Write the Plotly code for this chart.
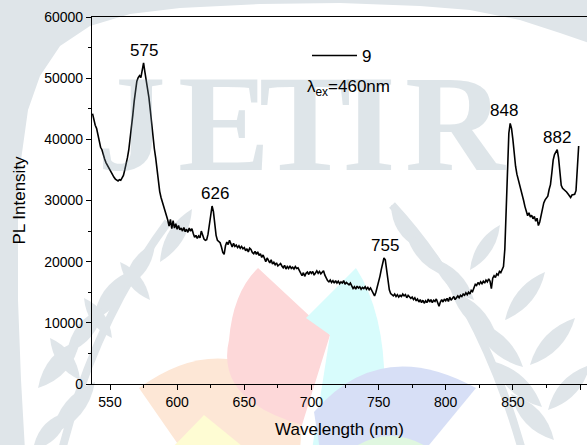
import plotly.graph_objects as go

# ---------------- data ----------------
wavelength = [
    537, 538, 539, 540, 541, 542, 543, 544, 545, 546,
    547, 548, 549, 550, 551, 552, 553, 554, 555, 556,
    557, 558, 559, 560, 561, 562, 563, 564, 565, 566,
    567, 568, 569, 570, 571, 572, 573, 574, 575, 576,
    577, 578, 579, 580, 581, 582, 583, 584, 585, 586,
    587, 588, 589, 590, 591, 592, 593, 594, 595, 596,
    597, 598, 599, 600, 601, 602, 603, 604, 605, 606,
    607, 608, 609, 610, 611, 612, 613, 614, 615, 616,
    617, 618, 619, 620, 621, 622, 623, 624, 625, 626,
    627, 628, 629, 630, 631, 632, 633, 634, 635, 636,
    637, 638, 639, 640, 641, 642, 643, 644, 645, 646,
    647, 648, 649, 650, 651, 652, 653, 654, 655, 656,
    657, 658, 659, 660, 661, 662, 663, 664, 665, 666,
    667, 668, 669, 670, 671, 672, 673, 674, 675, 676,
    677, 678, 679, 680, 681, 682, 683, 684, 685, 686,
    687, 688, 689, 690, 691, 692, 693, 694, 695, 696,
    697, 698, 699, 700, 701, 702, 703, 704, 705, 706,
    707, 708, 709, 710, 711, 712, 713, 714, 715, 716,
    717, 718, 719, 720, 721, 722, 723, 724, 725, 726,
    727, 728, 729, 730, 731, 732, 733, 734, 735, 736,
    737, 738, 739, 740, 741, 742, 743, 744, 745, 746,
    747, 748, 749, 750, 751, 752, 753, 754, 755, 756,
    757, 758, 759, 760, 761, 762, 763, 764, 765, 766,
    767, 768, 769, 770, 771, 772, 773, 774, 775, 776,
    777, 778, 779, 780, 781, 782, 783, 784, 785, 786,
    787, 788, 789, 790, 791, 792, 793, 794, 795, 796,
    797, 798, 799, 800, 801, 802, 803, 804, 805, 806,
    807, 808, 809, 810, 811, 812, 813, 814, 815, 816,
    817, 818, 819, 820, 821, 822, 823, 824, 825, 826,
    827, 828, 829, 830, 831, 832, 833, 834, 835, 836,
    837, 838, 839, 840, 841, 842, 843, 844, 845, 846,
    847, 848, 849, 850, 851, 852, 853, 854, 855, 856,
    857, 858, 859, 860, 861, 862, 863, 864, 865, 866,
    867, 868, 869, 870, 871, 872, 873, 874, 875, 876,
    877, 878, 879, 880, 881, 882, 883, 884, 885, 886,
    887, 888, 889, 890, 891, 892, 893, 894, 895, 896,
    897, 898, 899,
]

intensity = [
    44200, 43000, 42300, 41800, 40600, 39600, 38700, 38300, 37400, 36800,
    36200, 35800, 35200, 34800, 34400, 34000, 33800, 33500, 33300, 33200,
    33400, 33300, 33700, 34100, 35000, 35800, 37000, 38300, 40000, 42200,
    44000, 46200, 48200, 49500, 50100, 50400, 50100, 51300, 52500, 51000,
    49700, 48200, 46800, 44800, 42500, 40800, 38500, 37000, 34800, 32900,
    31500, 30500, 29800, 29000, 28000, 27300, 26800, 25800, 26900, 25400,
    26700, 25500, 26200, 25300, 25900, 25200, 25500, 25000, 25600, 24900,
    25300, 24800, 25500, 25000, 25400, 24600, 24000, 24300, 23800, 24200,
    23900, 25000, 24200, 23700, 23500, 23600, 24500, 26000, 28000, 29100,
    28200, 26300, 24300, 23500, 23300, 23100, 22400, 21500, 21200, 22600,
    23200, 22800, 23500, 22900, 22400, 23000, 22500, 22700, 22300, 22600,
    22200, 22500, 22100, 22300, 21800, 22100, 21600, 22200, 22000, 21500,
    21300, 21700, 21200, 21600, 21000, 21300, 20700, 21100, 20500, 20000,
    20600, 20100, 19800, 20300, 19600, 19900, 19500, 19800, 19300, 19500,
    19700, 19300, 19000, 19400, 18800, 19200, 18900, 19300, 18900, 19100,
    18800, 19200, 18900, 19000, 18600, 18100, 17700, 18200, 17600, 18100,
    18300, 17900, 18400, 18100, 18400, 17800, 18300, 18500, 18100, 18400,
    18000, 18300, 18500, 17800, 17200, 16900, 16700, 17000, 16600, 16900,
    16500, 16900, 16500, 16800, 16400, 16700, 16500, 16900, 16300, 16600,
    16400, 16200, 16500, 16000, 15600, 15900, 15500, 16000, 15700, 15900,
    15500, 15800, 15600, 15900, 15500, 15800, 15400, 15700, 15300, 14900,
    14400, 15000, 15800, 16600, 17600, 18700, 19800, 20600, 20300, 18500,
    16600, 15400, 14800, 14600, 14400, 14700, 14300, 14600, 14200, 14500,
    14300, 14700, 14400, 14600, 14100, 14500, 14300, 14000, 14200, 13800,
    14100, 13600, 13900, 13400, 13800, 13300, 13700, 13200, 13600, 13300,
    13900, 13400, 13800, 13300, 13700, 13500, 13900, 13200, 12700, 13400,
    13800, 13400, 13900, 13600, 14000, 13500, 14200, 13700, 14100, 14300,
    13800, 14200, 14400, 14100, 14500, 14300, 14700, 14500, 14900, 14600,
    15000, 14700, 15300, 15100, 15800, 16300, 16100, 16600, 16300, 16700,
    16400, 16800, 16500, 17000, 16700, 17200, 16800, 15600, 17300, 17700,
    17400, 18000, 17800, 18400, 18200, 18800, 19200, 22000, 29000, 36000,
    41000, 42600, 41800, 40000, 37500, 35600, 34300, 33500, 32600, 31800,
    31200, 30000, 29000, 28200, 27500, 28000, 27300, 27600, 27000, 27400,
    26600, 27100, 25900, 26500, 27700, 28600, 29600, 30100, 30500, 30700,
    31800, 32600, 34500, 36600, 37500, 38000, 38300, 37000, 35000, 32500,
    32000, 31800, 31700, 31400, 31100, 30800, 30500, 30900, 31000, 31000,
    31600, 35000, 38900,
]

peak_nm = [575, 626, 755, 848, 882]
series_name = "9"
excitation_text = "λ<sub>ex</sub>=460nm"
x_ticks = [550, 600, 650, 700, 750, 800, 850, 900]
y_ticks = [0, 10000, 20000, 30000, 40000, 50000, 60000]

assert len(wavelength) == len(intensity)

# ---------------- layout geometry ----------------
W_FIG, H_FIG = 587, 445
ML, MR, MT, MB = 92, 0, 17, 61
PW, PH = W_FIG - ML - MR, H_FIG - MT - MB
FONT = "Liberation Sans, Arial, sans-serif"


def P(px, py):
    return (px - ML) / PW, (MT + PH - py) / PH


def fmt(pt):
    x, y = P(*pt)
    return f"{x:.4f},{y:.4f}"


def poly(points):
    return "M" + " L".join(fmt(p) for p in points) + " Z"


def leaf(base, tip, w):
    bx, by = base
    tx, ty = tip
    mx, my = (bx + tx) / 2, (by + ty) / 2
    dx, dy = tx - bx, ty - by
    ln = (dx * dx + dy * dy) ** 0.5
    nx, ny = -dy / ln, dx / ln
    c1 = (mx + nx * w, my + ny * w)
    c2 = (mx - nx * w, my - ny * w)
    return f"M{fmt(base)} Q{fmt(c1)} {fmt(tip)} Q{fmt(c2)} {fmt(base)} Z"


GREY = "#dfe5e9"
shapes = []


def add_path(path, fill, line_w=0, line_c=None):
    shapes.append(dict(type="path", path=path, xref="paper", yref="paper",
                       fillcolor=fill, layer="below",
                       line=dict(width=line_w, color=line_c or fill)))


# top / left ring of the watermark
ring = [(592, -5), (592, 44), (560, 33), (520, 20), (470, 10), (420, 6),
        (340, 3), (260, 4), (180, 8), (130, 14), (90, 26), (60, 46),
        (40, 76), (28, 110), (21, 160), (18, 220), (18, 300), (21, 380),
        (25, 450), (-5, 450), (-5, -5)]
add_path(poly(ring), GREY)

# wreath stems
shapes.append(dict(type="path", xref="paper", yref="paper", layer="below",
                   path=f"M{fmt((168, 222))} Q{fmt((95, 320))} {fmt((62, 450))}",
                   line=dict(color=GREY, width=8)))
shapes.append(dict(type="path", xref="paper", yref="paper", layer="below",
                   path=f"M{fmt((392, 205))} Q{fmt((480, 300))} {fmt((522, 450))}",
                   line=dict(color=GREY, width=8)))

# left wreath leaves
for b, t, w in [((160, 262), (192, 209), 16), ((124, 288), (155, 243), 16),
                ((94, 320), (128, 272), 17), ((67, 353), (103, 308), 17),
                ((38, 388), (80, 340), 19), ((52, 434), (95, 382), 19),
                ((33, 450), (68, 412), 17), ((150, 300), (120, 262), 13),
                ((112, 338), (84, 298), 14), ((80, 380), (50, 338), 15)]:
    add_path(leaf(b, t, w), GREY)

# right wreath leaves
for b, t, w in [((418, 248), (391, 205), 15), ((448, 277), (406, 234), 16),
                ((474, 300), (432, 258), 16), ((497, 337), (451, 291), 17),
                ((523, 367), (474, 321), 18), ((542, 407), (492, 361), 18),
                ((554, 440), (511, 394), 18), ((470, 270), (500, 225), 14),
                ((505, 320), (545, 272), 16), ((530, 365), (575, 318), 17),
                ((548, 410), (590, 365), 17)]:
    add_path(leaf(b, t, w), GREY)

# coloured petals of the watermark logo
add_path(f"M{fmt((139, 388))} Q{fmt((205, 340))} {fmt((265, 370))} "
         f"L{fmt((302, 425))} L{fmt((300, 450))} L{fmt((182, 450))} Z", "#fde7d6")
add_path(f"M{fmt((258, 268))} L{fmt((330, 335))} L{fmt((302, 425))} "
         f"Q{fmt((215, 400))} {fmt((229, 340))} Q{fmt((233, 292))} {fmt((258, 268))} Z",
         "#fdd8d9")
add_path(f"M{fmt((356, 268))} L{fmt((306, 318))} L{fmt((330, 335))} "
         f"L{fmt((312, 450))} L{fmt((380, 450))} Q{fmt((396, 330))} {fmt((356, 268))} Z",
         "#d8fcfc")
add_path(f"M{fmt((314, 412))} Q{fmt((380, 335))} {fmt((476, 388))} "
         f"L{fmt((425, 450))} L{fmt((320, 450))} Z", "#d7dff6")
add_path(f"M{fmt((170, 450))} L{fmt((204, 415))} L{fmt((247, 450))} Z", "#fefcd3")
add_path(f"M{fmt((350, 450))} Q{fmt((390, 422))} {fmt((432, 450))} Z", "#e0f7e0")

# ---------------- figure ----------------
fig = go.Figure()
fig.add_trace(go.Scatter(x=wavelength, y=intensity, mode="lines", name=series_name,
                         line=dict(color="black", width=1.6), showlegend=True))

annotations = []
# watermark letters (faint)
for ch, cx in [("J", 131), ("E", 224), ("T", 305), ("I", 369), ("R", 455)]:
    x, y = P(cx, 124)
    annotations.append(dict(text=f"<b>{ch}</b>", x=x, y=y, xref="paper", yref="paper",
                            xanchor="center", yanchor="middle", showarrow=False,
                            font=dict(family="Liberation Serif, Times New Roman, serif",
                                      size=138, color="rgba(125,150,168,0.25)")))

# peak labels, anchored to the data maxima
shift = {575: 0, 626: 3, 755: 1, 848: -6, 882: 0}
for pk in peak_nm:
    idx = min(range(len(wavelength)), key=lambda i: abs(wavelength[i] - pk))
    lo, hi = max(0, idx - 3), min(len(wavelength), idx + 4)
    j = max(range(lo, hi), key=lambda i: intensity[i])
    annotations.append(dict(text=str(pk), x=wavelength[j], y=intensity[j],
                            xref="x", yref="y", xanchor="center", yanchor="bottom",
                            xshift=shift[pk], yshift=1, showarrow=False,
                            font=dict(family=FONT, size=17, color="black")))

ex_x, ex_y = P(305, 88)
annotations.append(dict(text=excitation_text, x=ex_x, y=ex_y, xref="paper", yref="paper",
                        xanchor="left", yanchor="middle", showarrow=False,
                        font=dict(family=FONT, size=17, color="black")))

lg_x, lg_y = P(307, 56)

fig.update_layout(
    width=W_FIG, height=H_FIG,
    margin=dict(l=ML, r=MR, t=MT, b=MB, pad=0),
    paper_bgcolor="white", plot_bgcolor="rgba(0,0,0,0)",
    font=dict(family=FONT, color="black"),
    shapes=shapes,
    annotations=annotations,
    showlegend=True,
    legend=dict(x=lg_x, y=lg_y, xanchor="left", yanchor="middle",
                bgcolor="rgba(0,0,0,0)", font=dict(family=FONT, size=17),
                itemwidth=45),
    xaxis=dict(range=[536.6, 905.2], tickvals=x_ticks, ticks="outside", ticklen=5,
               tickwidth=1, tickcolor="black", showline=True, linecolor="black",
               linewidth=1.2, mirror=True, showgrid=False, zeroline=False,
               tickfont=dict(family=FONT, size=14),
               minor=dict(dtick=25, tick0=525, ticks="outside", ticklen=3,
                          tickcolor="black", showgrid=False),
               title=dict(text="Wavelength (nm)", font=dict(family=FONT, size=17),
                          standoff=14)),
    yaxis=dict(range=[0, 60000], tickvals=y_ticks, tickformat="d", ticks="outside",
               ticklen=5, tickwidth=1, tickcolor="black", showline=True,
               linecolor="black", linewidth=1.2, mirror=False, showgrid=False,
               zeroline=False, tickfont=dict(family=FONT, size=14),
               minor=dict(dtick=5000, ticks="outside", ticklen=3,
                          tickcolor="black", showgrid=False),
               title=dict(text="PL Intensity", font=dict(family=FONT, size=17),
                          standoff=14)),
)

fig.write_html("out.html")
